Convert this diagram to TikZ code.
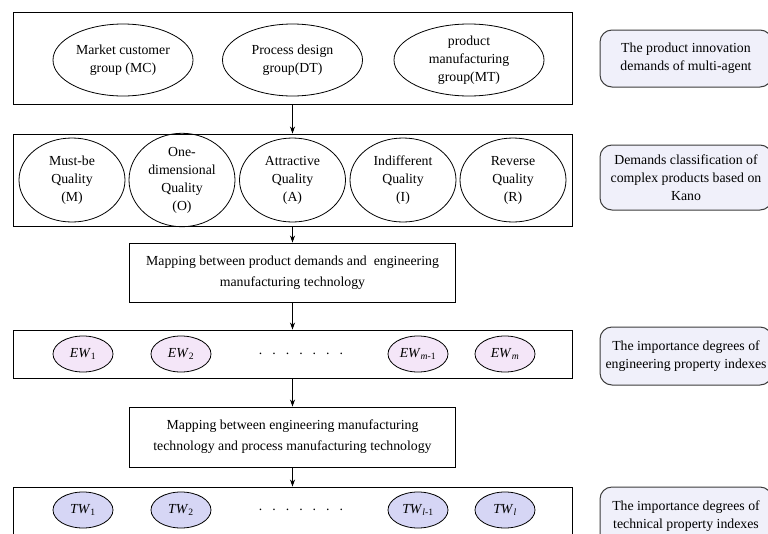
\documentclass[tikz,border=0pt]{standalone}
\usepackage{fontspec}
\setmainfont{Liberation Serif}
\usetikzlibrary{arrows.meta,shapes.geometric}
\definecolor{sidefill}{RGB}{240,240,250}
\definecolor{ewfill}{RGB}{244,230,248}
\definecolor{twfill}{RGB}{214,214,245}
\definecolor{sideline}{RGB}{60,60,60}
\begin{document}
\begin{tikzpicture}[x=1pt,y=-1pt,
  every node/.style={font=\fontsize{13.8}{18}\selectfont},
  frame/.style={draw=black, line width=0.9pt, rectangle, inner sep=0pt},
  maptext/.style={frame, align=center, font=\fontsize{13.8}{21}\selectfont},
  grp/.style={draw=black, ellipse, line width=0.8pt, minimum height=72pt, align=center, inner sep=0pt},
  kano/.style={draw=black, ellipse, line width=0.8pt, minimum width=106pt, minimum height=84pt, align=center, inner sep=0pt},
  ew/.style={draw=black, ellipse, line width=0.8pt, fill=ewfill, minimum width=60pt, minimum height=36pt, inner sep=0pt},
  tw/.style={ew, fill=twfill},
  side/.style={draw=sideline, line width=1pt, rounded corners=12pt, fill=sidefill, minimum width=172pt, align=center, inner sep=0pt},
  arr/.style={-{Stealth[length=7pt,width=5pt]}, line width=0.8pt}
]
\clip (0,0) rectangle (768,533);
\fill[white] (0,0) rectangle (768,533);

% left column frames
\node[frame, minimum width=559pt, minimum height=92pt] (b1) at (292.5,58) {};
\node[frame, minimum width=559pt, minimum height=92pt] (b2) at (292.5,180) {};
\node[maptext, minimum width=326pt, minimum height=59pt] (m1) at (292.5,272.5) {Mapping between product demands and\ \ engineering\\manufacturing technology};
\node[frame, minimum width=559pt, minimum height=48pt] (b3) at (292.5,354) {};
\node[maptext, minimum width=326pt, minimum height=60pt] (m2) at (292.5,437) {Mapping between engineering manufacturing\\technology and process manufacturing technology};
\node[frame, minimum width=559pt, minimum height=73pt] (b4) at (292.5,523.5) {};

% row 1
\node[grp, minimum width=140pt] (mc) at (123,60) {Market customer\\group (MC)};
\node[grp, minimum width=140pt] (dt) at (292.5,60) {Process design\\group(DT)};
\node[grp, minimum width=150pt] (mt) at (469,60) {product\\manufacturing\\group(MT)};

% row 2
\node[kano] (qm) at (72,180) {Must-be\\Quality\\(M)};
\node[kano] (qo) at (182,180) {One-\\dimensional\\Quality\\(O)};
\node[kano] (qa) at (292.5,180) {Attractive\\Quality\\(A)};
\node[kano] (qi) at (403,180) {Indifferent\\Quality\\(I)};
\node[kano] (qr) at (513,180) {Reverse\\Quality\\(R)};

% row 3
\node[ew] (ew1) at (83,354) {\textit{EW}\textsubscript{1}};
\node[ew] (ew2) at (181,354) {\textit{EW}\textsubscript{2}};
\node (edots) at (301,354) {.\hspace{10pt}.\hspace{10pt}.\hspace{10pt}.\hspace{10pt}.\hspace{10pt}.\hspace{10pt}.};
\node[ew] (ewm1) at (418,354) {\textit{EW}\textsubscript{\textit{m}-1}};
\node[ew] (ewm) at (505,354) {\textit{EW}\textsubscript{\textit{m}}};

% row 4
\node[tw] (tw1) at (83,510) {\textit{TW}\textsubscript{1}};
\node[tw] (tw2) at (181,510) {\textit{TW}\textsubscript{2}};
\node (tdots) at (301,510) {.\hspace{10pt}.\hspace{10pt}.\hspace{10pt}.\hspace{10pt}.\hspace{10pt}.\hspace{10pt}.};
\node[tw] (twl1) at (418,510) {\textit{TW}\textsubscript{\textit{l}-1}};
\node[tw] (twl) at (505,510) {\textit{TW}\textsubscript{\textit{l}}};

% arrows
\draw[arr] (b1.south) -- (b2.north);
\draw[arr] (b2.south) -- (m1.north);
\draw[arr] (m1.south) -- (b3.north);
\draw[arr] (b3.south) -- (m2.north);
\draw[arr] (m2.south) -- (b4.north);

% side boxes
\node[side, minimum height=57pt] (s1) at (686,58.5) {The product innovation\\demands of multi-agent};
\node[side, minimum height=65pt] (s2) at (686,177.5) {Demands classification of\\complex products based on\\Kano};
\node[side, minimum height=58pt] (s3) at (686,356) {The importance degrees of\\engineering property indexes};
\node[side, minimum height=58pt] (s4) at (686,516) {The importance degrees of\\technical property indexes};
\end{tikzpicture}
\end{document}
